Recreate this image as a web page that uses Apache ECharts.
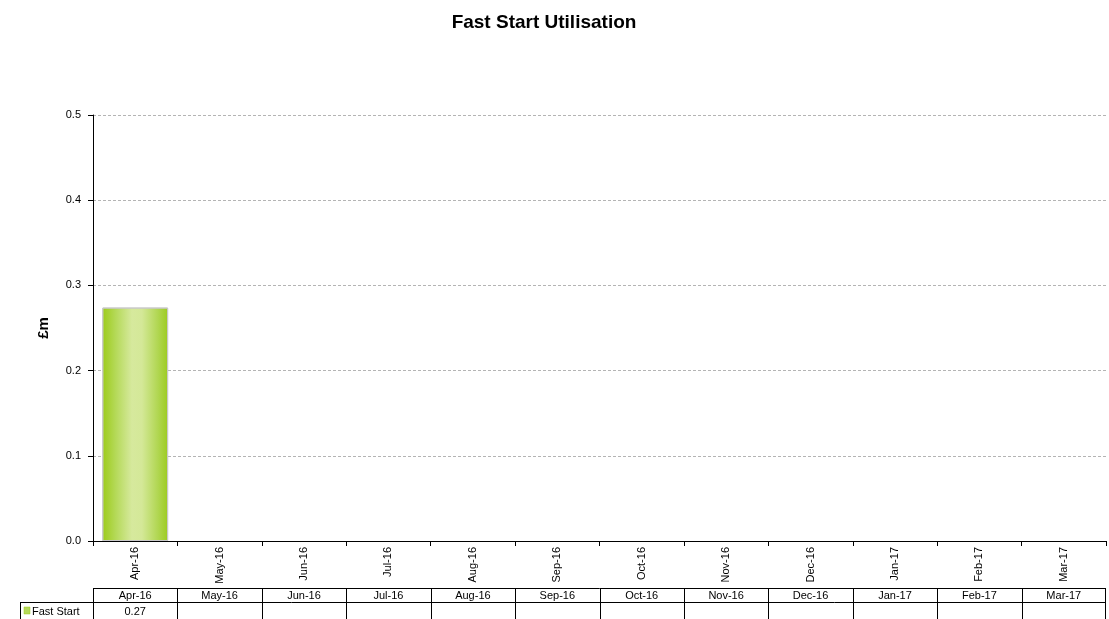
<!DOCTYPE html>
<html><head><meta charset="utf-8">
<script src="https://cdn.jsdelivr.net/npm/echarts@6/dist/echarts.min.js"></script>
<style>html,body{margin:0;padding:0;background:#fff}#c{width:1109px;height:619px}</style>
</head><body><div id="c"></div>
<script>
const categories = ['Apr-16','May-16','Jun-16','Jul-16','Aug-16','Sep-16','Oct-16','Nov-16','Dec-16','Jan-17','Feb-17','Mar-17'];
const fastStart = [0.274, null, null, null, null, null, null, null, null, null, null, null];
const tableValues = ['0.27','','','','','','','','','','',''];
const seriesName = 'Fast Start';
const yTicks = [0, 0.1, 0.2, 0.3, 0.4, 0.5];

const FONT = '"Liberation Sans", Arial, sans-serif';
const chart = echarts.init(document.getElementById('c'), null, {renderer:'canvas'});
const grid = {left:93, right:3, top:115, bottom:78};
chart.setOption({
  animation:false,
  title:{text:'Fast Start Utilisation', left:539, textAlign:'center', top:8, textStyle:{fontFamily:FONT, fontSize:19, fontWeight:'bold', color:'#000'}},
  grid: grid,
  xAxis:{type:'category', data:categories, boundaryGap:true,
    axisLine:{lineStyle:{color:'#000', width:1}},
    axisTick:{show:true, alignWithLabel:false, length:5, lineStyle:{color:'#000'}},
    axisLabel:{rotate:90, fontFamily:FONT, fontSize:11, color:'#000', margin:6}},
  yAxis:{type:'value', min:yTicks[0], max:yTicks[yTicks.length-1], interval:0.1,
    name:'£m', nameLocation:'middle', nameGap:42, nameRotate:90,
    nameTextStyle:{fontFamily:FONT, fontSize:15, fontWeight:'bold', color:'#000'},
    axisLine:{show:true, lineStyle:{color:'#000'}},
    axisTick:{show:true, length:5, lineStyle:{color:'#000'}},
    axisLabel:{fontFamily:FONT, fontSize:11, color:'#000', margin:12, formatter:v=>v.toFixed(1)},
    splitLine:{lineStyle:{color:'#b4b4b4', type:[3,2], width:1}}},
  series:[{type:'bar', name:seriesName, data:fastStart, barCategoryGap:'22%',
    itemStyle:{borderColor:'#c8c8c8', borderWidth:1,
      color:new echarts.graphic.LinearGradient(0,0,1,0,[
        {offset:0, color:'#9ccb19'},{offset:0.2,color:'#b4d957'},{offset:0.45,color:'#d6e99d'},{offset:0.6,color:'#d4e898'},{offset:0.85,color:'#b0d650'},{offset:1,color:'#9ccb1f'}])}}]
});

// data table beneath the chart
function drawTable(){
  const els = [];
  const x0 = chart.convertToPixel({xAxisIndex:0}, categories[0]);
  const x1 = chart.convertToPixel({xAxisIndex:0}, categories[1]);
  const w = x1 - x0;
  const left = x0 - w/2;
  const right = left + w*categories.length;
  const top = 588, mid = 602, bot = 619;
  const labelLeft = 20;
  const ls = {stroke:'#000', lineWidth:1};
  const line = (a,b,c,d)=>els.push({type:'line', shape:{x1:a,y1:b,x2:c,y2:d}, style:ls, silent:true});
  line(left, top+0.5, right, top+0.5);
  line(labelLeft, mid+0.5, right, mid+0.5);
  line(labelLeft+0.5, mid, labelLeft+0.5, bot);
  for(let i=0;i<=categories.length;i++){
    const x = Math.min(Math.round(left + i*w), Math.floor(right)-1)+0.5;
    line(x, top, x, bot);
  }
  categories.forEach((c,i)=>{
    const cx = left + (i+0.5)*w;
    els.push({type:'text', style:{text:c, x:cx, y:(top+mid)/2+1, align:'center', verticalAlign:'middle', font:'11px '+FONT, fill:'#000'}, silent:true});
    els.push({type:'text', style:{text:tableValues[i], x:cx, y:(mid+bot)/2+1, align:'center', verticalAlign:'middle', font:'11px '+FONT, fill:'#000'}, silent:true});
  });
  els.push({type:'rect', shape:{x:labelLeft+4, y:mid+5, width:6, height:7}, style:{fill:'#b5d95a', stroke:'#9ccb19', lineWidth:0.5}, silent:true});
  els.push({type:'text', style:{text:seriesName, x:labelLeft+12, y:(mid+bot)/2+1, align:'left', verticalAlign:'middle', font:'11px '+FONT, fill:'#000'}, silent:true});
  chart.setOption({graphic:{elements:els}});
}
drawTable();
</script></body></html>
